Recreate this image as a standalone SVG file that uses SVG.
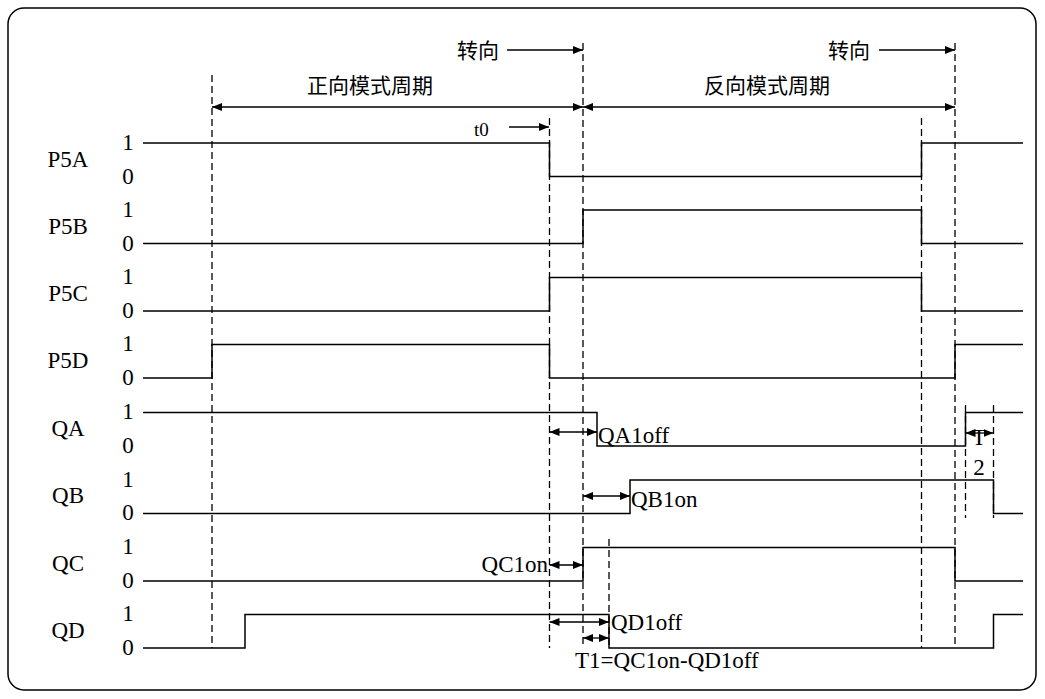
<svg xmlns="http://www.w3.org/2000/svg" width="1045" height="699" viewBox="0 0 1045 699">
<defs>
<marker id="ah" viewBox="0 0 10 8" refX="10" refY="4" markerWidth="10" markerHeight="8" markerUnits="userSpaceOnUse" orient="auto-start-reverse">
<path d="M0,0 L10,4 L0,8 z" fill="#000"/>
</marker>
<style>
.sig{fill:none;stroke:#000;stroke-width:1.5}
.dash{fill:none;stroke:#000;stroke-width:1.3;stroke-dasharray:7 4}
.arr{fill:none;stroke:#000;stroke-width:1.3;marker-end:url(#ah)}
.darr{fill:none;stroke:#000;stroke-width:1.3;marker-start:url(#ah);marker-end:url(#ah)}
.t{font-family:"Liberation Serif","Times New Roman",serif;font-size:23px;fill:#000}
.lab{text-anchor:middle}
.cn{font-family:"Noto Sans CJK SC","Noto Sans",sans-serif;font-size:21px;fill:#000}
</style>
</defs>
<rect x="8" y="8" width="1028" height="682" rx="16" fill="#fff" stroke="#000" stroke-width="1.5"/>
<g id="guides">
<line class="dash" x1="212" y1="75" x2="212" y2="648"/>
<line class="dash" x1="583" y1="43" x2="583" y2="648"/>
<line class="dash" x1="549.5" y1="118" x2="549.5" y2="648"/>
<line class="dash" x1="609" y1="539" x2="609" y2="648"/>
<line class="dash" x1="921.5" y1="118" x2="921.5" y2="648"/>
<line class="dash" x1="955" y1="43" x2="955" y2="648"/>
<line class="dash" x1="965.5" y1="405" x2="965.5" y2="518"/>
<line class="dash" x1="993.5" y1="405" x2="993.5" y2="518"/>
</g>
<g id="labels">
<text class="cn" x="457" y="58">转向</text>
<text class="cn" x="828" y="58">转向</text>
<text class="cn" x="370" y="93" text-anchor="middle">正向模式周期</text>
<text class="cn" x="767" y="93" text-anchor="middle">反向模式周期</text>
<text class="t" x="474" y="136" style="font-size:19px">t0</text>
</g>
<g id="P5A"><text class="t lab" x="68" y="167">P5A</text><text class="t lab" x="128" y="150">1</text><text class="t lab" x="128" y="184">0</text>
<polyline class="sig" points="143,143 549.5,143 549.5,176.5 921.5,176.5 921.5,143 1023,143"/></g>
<g id="P5B"><text class="t lab" x="68" y="234">P5B</text><text class="t lab" x="128" y="217">1</text><text class="t lab" x="128" y="251">0</text>
<polyline class="sig" points="143,243.5 583,243.5 583,210 921.5,210 921.5,243.5 1023,243.5"/></g>
<g id="P5C"><text class="t lab" x="68" y="301">P5C</text><text class="t lab" x="128" y="284">1</text><text class="t lab" x="128" y="318">0</text>
<polyline class="sig" points="143,311 549.5,311 549.5,277.5 921.5,277.5 921.5,311 1023,311"/></g>
<g id="P5D"><text class="t lab" x="68" y="368">P5D</text><text class="t lab" x="128" y="351">1</text><text class="t lab" x="128" y="385">0</text>
<polyline class="sig" points="143,378 212,378 212,344.5 549.5,344.5 549.5,378 955,378 955,344.5 1023,344.5"/></g>
<g id="QA"><text class="t lab" x="68" y="436">QA</text><text class="t lab" x="128" y="419">1</text><text class="t lab" x="128" y="453">0</text>
<polyline class="sig" points="143,412.5 597,412.5 597,446 965.5,446 965.5,412.5 1023,412.5"/></g>
<g id="QB"><text class="t lab" x="68" y="503">QB</text><text class="t lab" x="128" y="487">1</text><text class="t lab" x="128" y="520">0</text>
<polyline class="sig" points="143,513.5 630,513.5 630,480 993.5,480 993.5,513.5 1023,513.5"/></g>
<g id="QC"><text class="t lab" x="68" y="571">QC</text><text class="t lab" x="128" y="554">1</text><text class="t lab" x="128" y="588">0</text>
<polyline class="sig" points="143,581 583,581 583,547.5 955,547.5 955,581 1023,581"/></g>
<g id="QD"><text class="t lab" x="68" y="638">QD</text><text class="t lab" x="128" y="621">1</text><text class="t lab" x="128" y="655">0</text>
<polyline class="sig" points="143,648 245,648 245,614.5 609,614.5 609,648 993.5,648 993.5,614.5 1023,614.5"/></g>
<g id="annotations">
<text class="t" x="598" y="443">QA1off</text>
<text class="t" x="631" y="507">QB1on</text>
<text class="t" x="548" y="572" text-anchor="end">QC1on</text>
<text class="t" x="611" y="630">QD1off</text>
<text class="t" x="575" y="668">T1=QC1on-QD1off</text>
<text class="t" x="979" y="445" text-anchor="middle">T</text>
<text class="t" x="979" y="475" text-anchor="middle">2</text>
</g>
<g id="connectors">
<line class="arr" x1="507" y1="50" x2="583" y2="50"/>
<line class="arr" x1="879" y1="50" x2="955" y2="50"/>
<line class="darr" x1="212" y1="107" x2="583" y2="107"/>
<line class="darr" x1="583" y1="107" x2="955" y2="107"/>
<line class="arr" x1="509" y1="127" x2="549" y2="127"/>
<line class="darr" x1="549.5" y1="432" x2="597" y2="432"/>
<line class="darr" x1="583" y1="496" x2="630" y2="496"/>
<line class="darr" x1="549.5" y1="565" x2="583" y2="565"/>
<line class="darr" x1="549.5" y1="622" x2="609" y2="622"/>
<line class="darr" x1="583" y1="638" x2="609" y2="638"/>
<line class="darr" x1="965.5" y1="433" x2="993.5" y2="433"/>
</g>
</svg>
